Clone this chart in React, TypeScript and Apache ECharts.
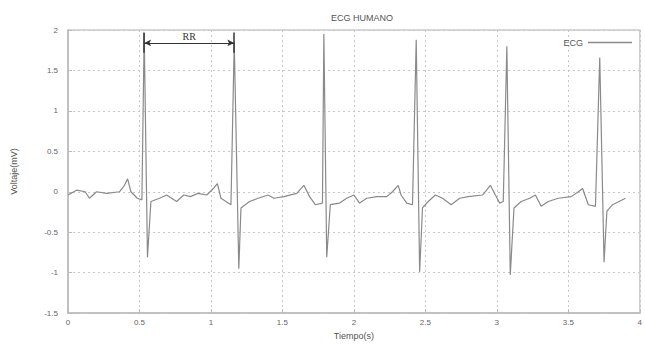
import React, { useEffect, useRef } from "react";
import * as echarts from "echarts";

const time = [0, 0.06, 0.12, 0.15, 0.2, 0.27, 0.36, 0.395, 0.417, 0.44, 0.485, 0.517, 0.533, 0.556, 0.58, 0.64, 0.69, 0.76, 0.81, 0.856, 0.91, 0.97, 1.017, 1.045, 1.07, 1.14, 1.163, 1.195, 1.21, 1.27, 1.33, 1.4, 1.44, 1.51, 1.6, 1.65, 1.69, 1.73, 1.78, 1.79, 1.81, 1.835, 1.9, 1.95, 2.0, 2.04, 2.09, 2.16, 2.23, 2.27, 2.31, 2.33, 2.37, 2.41, 2.436, 2.46, 2.48, 2.52, 2.57, 2.62, 2.68, 2.74, 2.8, 2.9, 2.955, 2.99, 3.02, 3.045, 3.07, 3.094, 3.12, 3.17, 3.23, 3.27, 3.31, 3.36, 3.43, 3.52, 3.57, 3.6, 3.64, 3.69, 3.72, 3.75, 3.77, 3.81, 3.9];

const voltage = [-0.04, 0.02, 0, -0.08, 0, -0.02, 0, 0.08, 0.16, 0, -0.08, -0.1, 1.96, -0.81, -0.12, -0.08, -0.04, -0.12, -0.04, -0.06, -0.02, -0.04, 0.04, 0.1, -0.08, -0.16, 1.85, -0.95, -0.2, -0.12, -0.08, -0.04, -0.08, -0.06, -0.02, 0.08, -0.06, -0.16, -0.14, 1.95, -0.81, -0.16, -0.14, -0.08, -0.04, -0.14, -0.08, -0.06, -0.06, 0, 0.08, -0.04, -0.14, -0.16, 1.88, -0.99, -0.2, -0.12, -0.04, -0.08, -0.16, -0.08, -0.06, -0.04, 0.08, -0.04, -0.14, -0.12, 1.8, -1.03, -0.2, -0.12, -0.08, -0.04, -0.18, -0.12, -0.08, -0.06, 0, 0.04, -0.16, -0.18, 1.66, -0.87, -0.24, -0.16, -0.08];

// RR annotation (data units)
const rrStart = 0.533;
const rrEnd = 1.163;
const rrLevel = 1.84;
const rrBarLow = 1.72;
const rrBarHigh = 1.97;

const FONT = "Liberation Sans";

export default function App() {
  const ref = useRef<HTMLDivElement>(null);
  useEffect(() => {
    if (!ref.current) return;
    const chart = echarts.init(ref.current, null, { renderer: "svg" });
    const seriesData = time.map((t, i) => [t, voltage[i]]);
    chart.setOption({
      animation: false,
      backgroundColor: "#ffffff",
      title: {
        text: "ECG HUMANO",
        left: 357,
        textAlign: "center",
        top: 8,
        textStyle: { fontFamily: FONT, fontSize: 9, fontWeight: "normal", color: "#555" },
      },
      legend: {
        data: ["ECG"],
        right: 8,
        top: 33,
        align: "right",
        icon: "rect",
        itemWidth: 44,
        itemHeight: 1.5,
        itemGap: 5,
        textStyle: { fontFamily: FONT, fontSize: 9, color: "#555" },
      },
      grid: {
        left: 68,
        top: 30,
        right: -1,
        bottom: 27,
        show: true,
        borderColor: "#cccccc",
        borderWidth: 1.5,
      },
      xAxis: {
        type: "value",
        min: 0,
        max: 4,
        interval: 0.5,
        name: "Tiempo(s)",
        nameLocation: "middle",
        nameGap: 17,
        nameTextStyle: { fontFamily: FONT, fontSize: 9, color: "#555" },
        axisLine: { show: true, onZero: false, lineStyle: { color: "#bbbbbb", width: 1.5 } },
        axisTick: { show: true, inside: true, length: 4, lineStyle: { color: "#bbbbbb" } },
        axisLabel: { fontFamily: FONT, fontSize: 8, color: "#666", margin: 5 },
        splitLine: { show: true, lineStyle: { color: "#c8c8c8", type: [2, 3], width: 1 } },
      },
      yAxis: {
        type: "value",
        min: -1.5,
        max: 2,
        interval: 0.5,
        name: "Voltaje(mV)",
        nameLocation: "middle",
        nameGap: 50,
        nameTextStyle: { fontFamily: FONT, fontSize: 9, color: "#555" },
        axisLine: { show: true, onZero: false, lineStyle: { color: "#bbbbbb", width: 1.5 } },
        axisTick: { show: true, inside: true, length: 4, lineStyle: { color: "#bbbbbb" } },
        axisLabel: { fontFamily: FONT, fontSize: 8, color: "#666", margin: 10 },
        splitLine: { show: true, lineStyle: { color: "#c8c8c8", type: [2, 3], width: 1 } },
      },
      series: [
        {
          name: "ECG",
          type: "line",
          data: seriesData,
          showSymbol: false,
          symbol: "none",
          color: "#8a8a8a",
          lineStyle: { color: "#8a8a8a", width: 1.2 },
          markLine: {
            silent: true,
            symbol: "none",
            animation: false,
            lineStyle: { color: "#333", width: 1, type: "solid" },
            data: [
              [
                {
                  coord: [rrStart, rrLevel],
                  symbol: "arrow",
                  symbolSize: [5, 7],
                  label: {
                    show: true,
                    formatter: "RR",
                    position: "middle",
                    distance: 1,
                    fontFamily: "Liberation Serif",
                    fontSize: 10,
                    color: "#333",
                  },
                },
                { coord: [rrEnd, rrLevel], symbol: "arrow", symbolSize: [5, 7] },
              ],
              [
                { coord: [rrStart, rrBarLow], label: { show: false }, lineStyle: { width: 1.5 } },
                { coord: [rrStart, rrBarHigh] },
              ],
              [
                { coord: [rrEnd, rrBarLow], label: { show: false }, lineStyle: { width: 1.5 } },
                { coord: [rrEnd, rrBarHigh] },
              ],
            ],
          },
        },
      ],
    });
    return () => chart.dispose();
  }, []);
  return (
    <div
      ref={ref}
      style={{ position: "fixed", left: 0, top: 0, width: 645, height: 345 }}
    />
  );
}
